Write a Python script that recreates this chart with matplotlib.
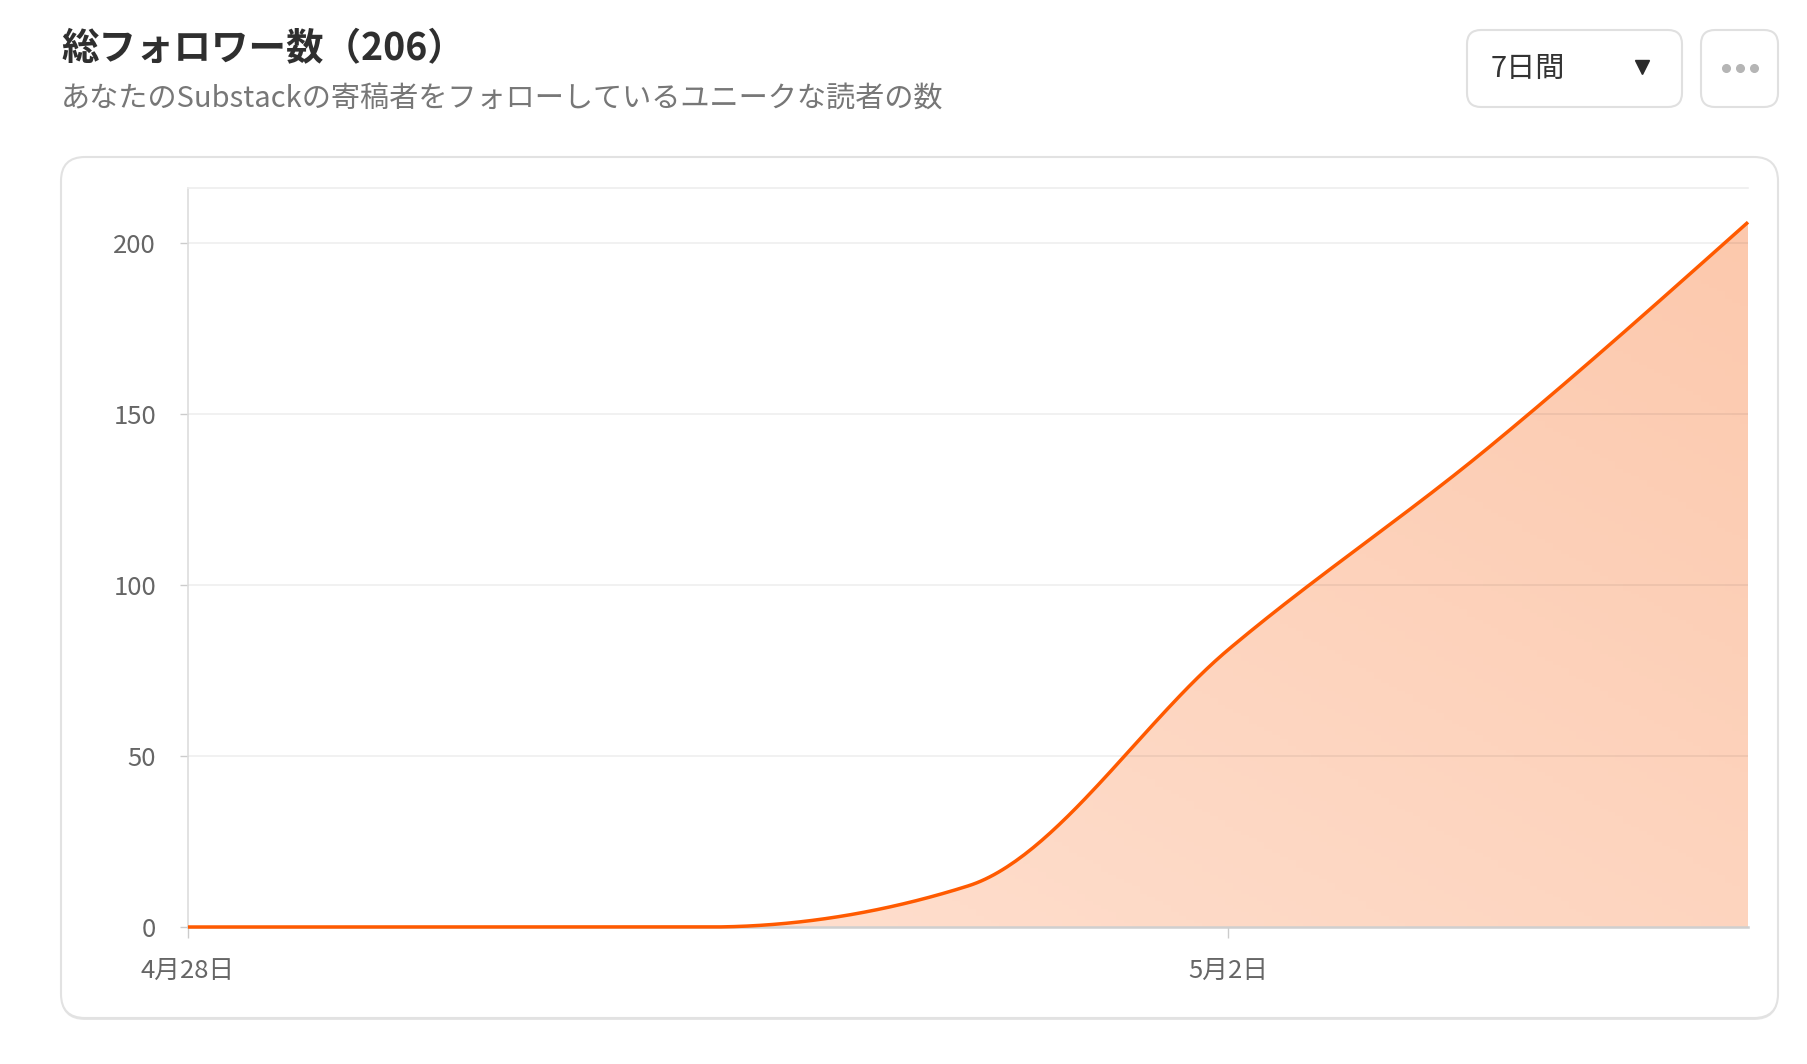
import numpy as np
import matplotlib
matplotlib.use("Agg")
import matplotlib.pyplot as plt
from matplotlib.patches import FancyBboxPatch, Polygon

plt.rcParams['font.family'] = ['Noto Sans CJK JP', 'DejaVu Sans']

# データ（7日間の総フォロワー数）
days = ['4月28日', '4月29日', '4月30日', '5月1日', '5月2日', '5月3日', '5月4日']
followers = [0, 0, 0, 12, 81, 140, 206]
tick_days = ['4月28日', '5月2日']
y_ticks = [0, 50, 100, 150, 200]

title = '総フォロワー数（206）'
subtitle = 'あなたのSubstackの寄稿者をフォローしているユニークな読者の数'
period = '7日間'

W, H = 1808, 1064


def monotone_x(xs, ys, n=60):
    # d3 の curveMonotoneX と同じ傾きの決め方
    xs = np.asarray(xs, float)
    ys = np.asarray(ys, float)
    h = np.diff(xs)
    s = np.diff(ys) / h
    m = np.zeros(len(xs))
    for i in range(1, len(xs) - 1):
        p = (s[i - 1] * h[i] + s[i] * h[i - 1]) / (h[i - 1] + h[i])
        m[i] = (np.sign(s[i - 1]) + np.sign(s[i])) * min(abs(s[i - 1]), abs(s[i]), 0.5 * abs(p))
    m[0] = (3 * s[0] - m[1]) / 2
    m[-1] = (3 * s[-1] - m[-2]) / 2
    px, py = [], []
    for i in range(len(xs) - 1):
        t = np.linspace(0, 1, n, endpoint=(i == len(xs) - 2))
        h00 = 2 * t**3 - 3 * t**2 + 1
        h10 = t**3 - 2 * t**2 + t
        h01 = -2 * t**3 + 3 * t**2
        h11 = t**3 - t**2
        px.append(xs[i] + t * h[i])
        py.append(h00 * ys[i] + h10 * h[i] * m[i] + h01 * ys[i + 1] + h11 * h[i] * m[i + 1])
    return np.concatenate(px), np.concatenate(py)


fig = plt.figure(figsize=(W / 100, H / 100), dpi=100)
fig.patch.set_facecolor('white')

# 背景（ピクセル座標）
bg = fig.add_axes([0, 0, 1, 1])
bg.set_xlim(0, W)
bg.set_ylim(H, 0)
bg.axis('off')

# カードの影と枠
bg.add_patch(FancyBboxPatch((61, 159), 1717, 861, boxstyle='round,pad=0,rounding_size=24',
                            facecolor='#e6e6e6', edgecolor='none'))
bg.add_patch(FancyBboxPatch((61, 157), 1717, 861, boxstyle='round,pad=0,rounding_size=24',
                            facecolor='white', edgecolor='#e2e2e2', linewidth=1.5))

# ボタン
bg.add_patch(FancyBboxPatch((1467, 30), 215, 77, boxstyle='round,pad=0,rounding_size=14',
                            facecolor='white', edgecolor='#e0e0e0', linewidth=1.5))
bg.add_patch(FancyBboxPatch((1701, 30), 77, 77, boxstyle='round,pad=0,rounding_size=14',
                            facecolor='white', edgecolor='#e0e0e0', linewidth=1.5))
bg.text(1491, 69, period, fontsize=21, color='#333333', va='center', ha='left')
bg.plot([1642], [67], marker='v', markersize=9.5, color='#2b2b2b')
bg.plot([1726, 1740, 1754], [68, 68, 68], 'o', markersize=5.5, color='#b5b5b5')

# タイトル
bg.text(61, 49, title, fontsize=27, fontweight='bold', color='#2f2f2f', va='center', ha='left')
bg.text(61, 100, subtitle, fontsize=21, color='#777777', va='center', ha='left')

# グラフ
ax = fig.add_axes([188 / W, 1 - 927 / H, 1560 / W, 739 / H])
ax.patch.set_alpha(0)
x = np.arange(len(days))
cx, cy = monotone_x(x, followers)

ax.set_xlim(0, len(days) - 1)
ax.set_ylim(0, 216)

# グラデーション塗り
poly = Polygon(np.column_stack([np.r_[cx, cx[-1], cx[0]], np.r_[cy, 0, 0]]),
               closed=True, facecolor='none', edgecolor='none')
ax.add_patch(poly)
gx, gy = np.meshgrid(np.linspace(0, 1, 200), np.linspace(0, 1, 200))
t = np.clip(0.55 * gx + 0.45 * gy, 0, 1)[..., None]
c0 = np.array([255, 228, 214]) / 255
c1 = np.array([252, 200, 172]) / 255
img = c0 * (1 - t) + c1 * t
im = ax.imshow(img, extent=[0, len(days) - 1, 0, 216], origin='lower', aspect='auto', zorder=1)
im.set_clip_path(poly)

# 目盛り線（塗りの上にうっすら）
for v in y_ticks[1:]:
    ax.axhline(v, color=(0, 0, 0, 0.065), linewidth=1.2, zorder=2)

ax.plot(cx, cy, color='#ff5a00', linewidth=2.5, zorder=3, clip_on=False, solid_capstyle='butt')

ax.set_yticks(y_ticks)
ax.set_yticklabels([str(v) for v in y_ticks])
ax.set_xticks([days.index(d) for d in tick_days])
ax.set_xticklabels(tick_days)

ax.spines['right'].set_visible(False)
ax.spines['top'].set_color('#eeeeee')
ax.spines['top'].set_linewidth(1.2)
ax.spines['left'].set_color('#dddddd')
ax.spines['left'].set_linewidth(1.2)
ax.spines['bottom'].set_color('#cfcfcf')
ax.spines['bottom'].set_linewidth(1.8)
ax.spines['bottom'].set_zorder(2.5)

ax.tick_params(axis='y', length=6, width=1, color='#cccccc', pad=17, labelsize=18.5, labelcolor='#666666')
ax.tick_params(axis='x', length=8, width=1, color='#cccccc', pad=14, labelsize=18.5, labelcolor='#666666')

fig.savefig('out.png', dpi=100, facecolor='white')
